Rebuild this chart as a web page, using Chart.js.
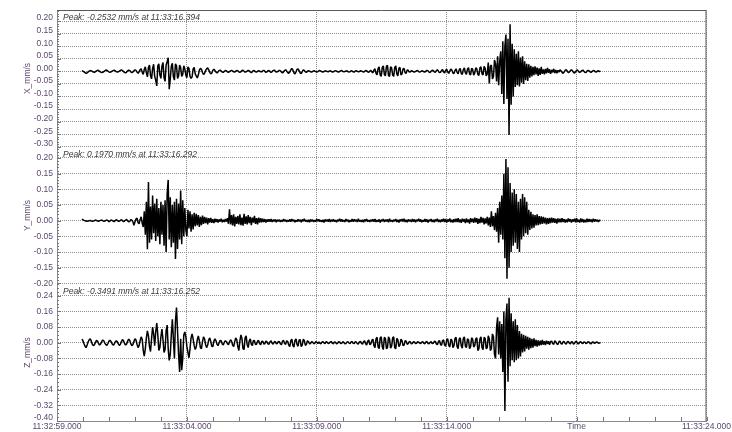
<!DOCTYPE html>
<html><head><meta charset="utf-8">
<script src="https://cdn.jsdelivr.net/npm/chart.js@4/dist/chart.umd.min.js"></script>
<style>html,body{margin:0;padding:0;background:#fff;}canvas{display:block;}</style>
</head><body>
<canvas id="c" width="732" height="432"></canvas>
<script>
// time axis: seconds after 11:32:59.000
const startSeconds = 0.96;   // time of first sample
const sampleStep = 0.04;     // seconds between samples
const xTickLabels = ['11:32:59.000','11:33:04.000','11:33:09.000','11:33:14.000','Time','11:33:24.000'];
const channelNames = ['X_mm/s','Y_mm/s','Z_mm/s'];
const peakTexts = ['Peak: -0.2532 mm/s at 11:33:16.394','Peak: 0.1970 mm/s at 11:33:16.292','Peak: -0.3491 mm/s at 11:33:16.252'];

// velocities in µm/s
const xVelocity = [
  3,1,-2,-5,-8,-6,-2,1,3,2,
  0,-3,-4,-1,2,4,3,0,-3,-5,
  -4,-1,2,5,4,1,-2,-4,-2,1,
  3,5,2,-1,-3,-2,1,4,6,3,
  -1,-4,-6,-3,2,5,3,-2,-5,-3,
  2,6,4,-3,-8,-2,7,10,-4,-12,
  8,18,-6,-22,15,25,-18,-30,12,28,
  -20,-35,-58,22,30,-15,-28,20,35,-25,
  -40,25,38,54,-71,-30,20,32,-22,-35,
  30,22,-28,-18,25,15,-20,-12,22,10,
  -15,-25,18,12,-20,-28,-22,10,16,-10,
  -18,-26,-15,5,12,8,-5,-12,-8,3,
  10,14,6,-4,-10,-6,4,8,3,-3,
  -6,-2,3,5,1,-3,-4,0,3,2,
  -2,-4,-1,2,4,1,-2,-3,1,3,
  2,-2,-4,-1,3,4,0,-3,-2,1,
  4,2,-3,-5,-1,3,2,-2,-3,0,
  3,1,-2,-2,2,4,0,-4,-2,2,
  3,-1,-4,-1,3,5,1,-3,-2,1,
  4,2,-3,-6,-2,4,6,1,-5,-8,
  -3,6,12,5,-6,-10,-2,8,10,2,
  -6,-9,-1,6,4,-2,-4,0,3,1,
  -2,-3,0,2,1,-1,-3,-1,2,3,
  1,-2,-3,0,2,1,-1,-2,1,2,
  0,-3,-2,1,3,1,-2,-3,0,2,
  3,0,-2,-1,1,2,-1,-3,-1,2,
  1,-2,-3,1,3,0,-2,-1,2,1,
  -1,-3,0,3,2,-2,-4,1,4,-2,
  -6,5,10,-8,-14,12,18,-15,-20,16,
  22,-12,-18,20,24,-16,-20,18,14,-15,
  -20,15,22,-10,-18,12,16,-14,-10,10,
  12,-6,-8,5,4,-3,-2,2,1,-2,
  -3,0,2,3,-1,-3,-1,2,1,-2,
  -3,1,4,2,-3,-5,0,4,3,-2,
  -4,2,6,1,-5,-4,3,7,-2,-6,
  4,8,-3,-8,2,9,4,-6,-9,3,
  10,-4,-10,6,12,-8,-12,7,14,-6,
  -12,9,15,-10,-14,12,8,-15,-6,14,
  10,-12,-16,14,18,-10,-14,20,12,-18,
  -10,35,-48,20,25,-30,-20,45,30,-40,
  60,-55,40,80,-90,120,-130,100,146,-110,
  130,-253,187,-133,110,-100,88,-62,70,-55,
  80,-60,55,-45,60,-50,40,-35,30,-38,
  28,-25,22,-20,18,-15,20,-12,15,-18,
  12,-14,18,-10,8,-12,10,-8,14,-6,
  8,-10,6,-4,10,-7,5,-8,4,-3,
  6,2,-4,-8,-3,4,7,1,-5,-3,
  3,6,2,-4,-7,-2,4,5,-1,-4,
  -2,3,5,0,-4,-5,1,4,2,-2,
  -4,0,3,2,-2,-3,1,2,-1,0
];
const yVelocity = [
  5,3,1,0,-1,-2,-1,0,1,-1,
  -2,-1,0,2,1,-1,-2,0,1,2,
  0,-2,-1,1,2,0,-3,-1,2,1,
  -1,-3,0,3,1,-2,-2,1,3,0,
  -3,-1,2,4,0,-4,-2,3,2,-3,
  -15,-4,5,8,-6,-10,4,12,-8,-20,
  30,-45,60,-91,123,-70,45,-60,80,-40,
  55,-65,70,-50,40,-75,60,-45,50,-80,
  65,-100,85,130,-60,75,-85,50,-70,60,
  -122,70,-90,55,-60,96,-75,65,-50,40,
  -30,-50,35,-25,30,-35,20,-28,25,-18,
  22,-15,18,-20,12,-14,16,-10,12,-8,
  10,-12,8,-6,9,-7,5,-8,6,-4,
  5,-6,4,-3,6,-5,3,-4,5,-3,
  8,-10,36,-12,18,-15,20,-18,12,-10,
  15,-12,20,-14,10,-16,22,-10,14,-12,
  18,-8,12,-14,10,-6,15,-10,8,-12,
  10,-6,8,-5,6,-4,5,-6,4,-3,
  4,-3,5,-4,3,-2,4,-5,3,-2,
  3,-4,2,-3,5,-2,3,-4,2,-3,
  4,-3,5,-2,3,-5,2,-3,4,-2,
  3,-5,4,-2,6,-3,2,-4,3,-5,
  4,-2,3,-4,2,-3,5,-2,4,-3,
  2,-4,3,-6,4,-2,3,-3,5,-4,
  3,-2,4,-3,2,-5,3,-2,6,-3,
  4,-3,2,-4,5,-2,3,-5,2,-3,
  5,-3,4,-2,3,-4,6,-3,2,-4,
  3,-5,4,-2,5,-3,2,-4,3,-2,
  4,-3,5,-4,2,-3,4,-6,3,-2,
  5,-4,3,-2,4,-5,6,-3,2,-4,
  3,-2,5,-4,3,-6,4,-2,5,-3,
  6,-4,3,-5,4,-2,3,-4,5,-3,
  4,-5,3,-2,6,-3,4,-5,2,-3,
  5,-3,4,-6,3,-2,5,-4,3,-5,
  4,-2,6,-4,3,-5,4,-3,6,-4,
  5,-6,4,-3,7,-5,3,-6,5,-4,
  6,-4,8,-5,4,-7,6,-3,5,-8,
  7,-5,4,-9,8,-4,6,-7,10,-5,
  8,-10,6,-8,12,-6,9,-12,7,-9,
  12,-15,10,-20,30,-18,15,-30,25,-35,
  40,-70,60,-45,80,-60,150,-120,197,-185,
  170,-150,120,-100,90,-80,100,-70,85,-90,
  60,-100,70,-60,85,-50,75,-40,60,-45,
  35,-30,28,-25,20,-22,18,-15,20,-14,
  15,-12,14,-10,12,-9,10,-12,8,-10,
  9,-8,10,-6,8,-7,6,-9,7,-5,
  6,-5,8,-4,5,-6,4,-5,7,-3,
  5,-6,4,-3,6,-5,8,-4,3,-6,
  7,-4,5,-6,3,-5,6,-4,5,-3,
  4,-5,6,-3,4,-2,3,-4,2,0
];
const zVelocity = [
  18,10,-5,-18,-25,-12,5,15,20,8,
  -8,-15,-10,2,12,8,-4,-12,-6,5,
  14,10,-2,-10,-14,-4,8,12,6,-5,
  -12,-8,4,10,6,-6,-14,-8,6,16,
  10,-4,-12,-6,8,18,12,-5,-15,-10,
  6,20,14,-8,-25,-15,10,30,18,-40,
  -68,-30,25,60,35,-20,-45,20,80,45,
  -15,55,100,40,-40,-25,30,70,15,-50,
  -35,60,90,-30,-90,-60,40,120,20,-80,
  110,180,60,-60,-150,20,-140,-80,40,55,
  30,-20,-50,-77,-30,25,45,20,-15,-35,
  -20,15,35,10,-25,-30,5,30,20,-10,
  -25,-12,15,25,5,-18,-20,8,20,10,
  -8,-15,0,12,10,-6,-12,2,10,6,
  -5,-10,5,15,8,-12,-20,5,25,15,
  -20,-40,10,40,20,-30,-35,25,35,-10,
  -25,10,20,-8,-15,12,10,-10,-8,8,
  12,-5,-10,6,8,-6,-5,8,4,-6,
  -8,5,10,-3,-8,4,6,-5,-4,7,
  5,-6,-10,8,12,-4,-8,10,6,-12,
  -20,10,18,-15,-22,12,20,-10,-18,14,
  16,-20,-12,18,10,-14,-8,10,6,-6,
  -4,6,3,-5,-3,5,2,-4,4,-3,
  -5,3,6,-2,-4,5,3,-5,-2,4,
  6,-3,-5,4,2,-6,-3,5,4,-4,
  -3,5,2,-6,-4,3,5,-2,-5,4,
  6,-3,-4,5,3,-5,-6,4,7,-3,
  -8,6,10,-5,-12,8,14,-10,-6,12,
  18,-15,-25,20,28,-22,-30,25,30,-20,
  -35,28,22,-30,-25,30,20,-28,-18,25,
  30,-25,-30,22,15,-20,-12,18,10,-15,
  -12,10,8,-8,-5,6,4,-6,-3,5,
  4,-4,-3,5,3,-2,-4,3,5,-3,
  -5,4,6,-3,-6,2,5,-4,-3,6,
  8,-6,-10,5,12,-8,-14,10,15,-12,
  -18,15,20,-14,-22,18,12,-25,-15,22,
  28,-20,-30,18,25,-15,-28,22,30,-18,
  -25,20,15,-30,-20,25,18,-22,-15,20,
  25,-40,-30,20,30,-25,-35,28,22,-30,
  -25,35,20,-40,-30,45,30,-60,-80,80,
  130,-60,110,-80,95,-150,160,-349,120,200,
  -200,230,-120,150,-90,110,-100,120,-90,90,
  -80,60,-70,45,-50,40,-45,35,-30,30,
  -35,25,-28,20,-25,22,-18,15,-20,12,
  -15,10,-12,14,-10,8,-12,10,-6,8,
  -10,6,8,-5,-8,10,4,-6,-9,5,
  8,-4,-7,5,6,-3,-8,4,7,-2,
  -6,5,4,-7,-3,6,5,-4,-6,3,
  6,-2,-5,4,3,-5,-2,6,3,-4,
  -5,2,4,-3,-2,4,2,-3,-1,0
];

const LABEL = '#5e4670';
const GRID = '#8e8e8e';
const AXIS = '#8a8a8a';
const FRAME = '#5a5a5a';
const FAMILY = "'Liberation Sans', Arial, sans-serif";

const toPoints = arr => arr.map((v, i) => ({x: startSeconds + i * sampleStep, y: v / 1000}));

function yAxis(name, min, max, step, weight, lineHeight, shiftBottom) {
  return {
    type: 'linear', position: 'left', stack: 'channels', stackWeight: 1, weight,
    min, max,
    afterFit: s => { s.width = 57; },
    ticks: {
      stepSize: step, includeBounds: false, autoSkip: false, padding: 4, color: LABEL,
      font: {family: FAMILY, size: 8.5, lineHeight: lineHeight},
      callback: (v) => {
        const t = v.toFixed(2);
        return (shiftBottom === 'all' || (shiftBottom === 'min' && Math.abs(v - min) < 1e-9)) ? [t, ''] : t;
      }
    },
    grid: {color: GRID, lineWidth: 1, drawTicks: false},
    border: {display: true, color: AXIS, width: 1, dash: [1, 1]},
    title: {display: true, text: name, color: LABEL, font: {family: FAMILY, size: 8.5}, padding: {top: 22.4, bottom: 0}}
  };
}

const minorSteps = {yX: 0.01, yY: 0.01, yZ: 0.02};
const channelIds = ['yX', 'yY', 'yZ'];

const decorations = {
  id: 'decorations',
  afterDatasetsDraw(chart) {
    const {ctx, chartArea: a, scales} = chart;
    ctx.save();
    ctx.lineWidth = 1;
    ctx.strokeStyle = '#777';
    channelIds.forEach((id, k) => {
      const s = scales[id];
      const step = minorSteps[id];
      const major = s.options.ticks.stepSize;
      ctx.beginPath();
      for (let n = Math.ceil(s.min / step - 1e-6); n * step <= s.max + 1e-9; n++) {
        const v = n * step;
        const py = Math.round(s.getPixelForValue(v)) + 0.5;
        const isMajor = Math.abs(v / major - Math.round(v / major)) < 1e-6;
        ctx.moveTo(a.left, py);
        ctx.lineTo(a.left + (isMajor ? 4 : 2), py);
      }
      ctx.stroke();
      ctx.fillStyle = '#3a3a3a';
      ctx.font = "italic 8.5px " + FAMILY;
      ctx.textBaseline = 'alphabetic';
      ctx.textAlign = 'left';
      ctx.fillText(peakTexts[k], a.left + 6, s.top + 9.8);
    });
    const xs = scales.x;
    ctx.beginPath();
    for (let t = Math.ceil(xs.min); t <= xs.max; t += 1) {
      const px = Math.round(xs.getPixelForValue(t)) + 0.5;
      ctx.moveTo(px, a.bottom);
      ctx.lineTo(px, a.bottom - 4);
    }
    ctx.stroke();
    ctx.strokeStyle = FRAME;
    ctx.beginPath();
    ctx.moveTo(a.left, a.top + 0.5);
    ctx.lineTo(a.right - 0.5, a.top + 0.5);
    ctx.lineTo(a.right - 0.5, a.bottom);
    ctx.stroke();
    ctx.restore();
  }
};

const series = [xVelocity, yVelocity, zVelocity];
new Chart(document.getElementById('c'), {
  type: 'line',
  data: {
    datasets: series.map((arr, k) => ({
      label: channelNames[k], data: toPoints(arr), yAxisID: channelIds[k],
      borderColor: '#000', borderWidth: 1.5, pointRadius: 0, tension: 0,
      borderJoinStyle: 'bevel', fill: false
    }))
  },
  options: {
    responsive: false, devicePixelRatio: 1, animation: false,
    layout: {padding: {top: 2, right: 22, left: 0, bottom: 0}, autoPadding: false},
    plugins: {legend: {display: false}, tooltip: {enabled: false}},
    scales: {
      x: {
        type: 'linear', position: 'bottom', min: 0, max: 25,
        afterFit: s => { s.height = 10; },
        ticks: {stepSize: 5, autoSkip: false, maxRotation: 0, padding: 1, color: LABEL,
          font: {family: FAMILY, size: 8.5}, callback: (v, i) => xTickLabels[i]},
        grid: {color: GRID, lineWidth: 1, drawTicks: false},
        border: {display: true, color: AXIS, width: 1, dash: [1, 1]}
      },
      yX: yAxis(channelNames[0], -0.301, 0.244, 0.05, 3, '6px', 'all'),
      yY: yAxis(channelNames[1], -0.202, 0.235, 0.05, 2, 1.2, 'none'),
      yZ: yAxis(channelNames[2], -0.40, 0.30, 0.08, 1, '7px', 'min')
    }
  },
  plugins: [decorations]
});
</script>
</body></html>
